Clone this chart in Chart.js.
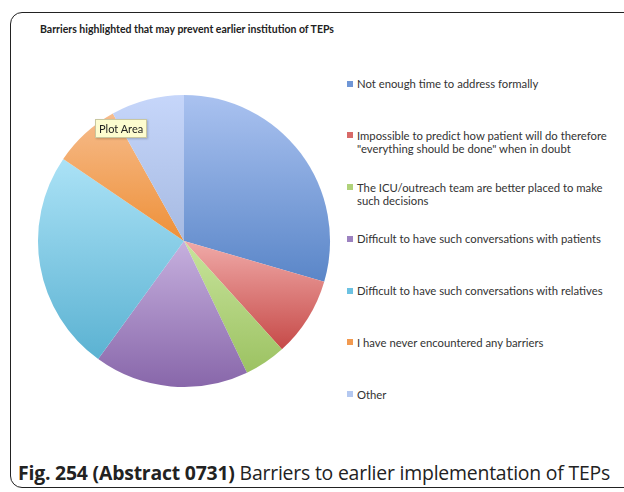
<!DOCTYPE html>
<html>
<head>
<meta charset="utf-8">
<script src="https://cdn.jsdelivr.net/npm/chart.js@4.4.1/dist/chart.umd.min.js"></script>
<style>
  html, body { margin: 0; padding: 0; background: #fff; }
  body { width: 624px; height: 492px; position: relative; overflow: hidden; font-family: Lato, "Open Sans", sans-serif; }
  #card { position: absolute; left: 10px; top: 12px; width: 630px; height: 476px; border: 1.5px solid #222; border-radius: 12px; box-sizing: border-box; }
  #title { position: absolute; left: 40px; top: 23px; font-size: 10.5px; font-weight: bold; color: #222; white-space: nowrap; }
  #chartBox { position: absolute; left: 34px; top: 91px; width: 300px; height: 300px; }
  #legend { position: absolute; left: 347px; top: 77px; width: 275px; font-size: 11.3px; color: #333; }
  .item { height: 51.8px; display: flex; align-items: flex-start; line-height: 13.5px; }
  .box { width: 6px; height: 6px; margin: 3.5px 4px 0 0; flex: none; }
  #tip { position: absolute; left: 95px; top: 119px; padding: 2px 3px; background: #fdfccf; border: 1px solid #c9c7a0; font-size: 11px; color: #222; box-shadow: 1px 1px 2px rgba(0,0,0,0.2); }
  #caption { position: absolute; left: 18px; top: 459px; font-size: 19.4px; color: #222; white-space: nowrap; font-family: "Open Sans", sans-serif; letter-spacing: -0.2px; }
</style>
</head>
<body>
<div id="card"></div>
<div id="title">Barriers highlighted that may prevent earlier institution of TEPs</div>
<div id="chartBox"><canvas id="pieChart"></canvas></div>
<div id="tip">Plot Area</div>
<div id="legend"></div>
<div id="caption"><b>Fig. 254 (Abstract 0731)</b> Barriers to earlier implementation of TEPs</div>
<script>
// categorias e valores (%)
const labels = [
    ['Not enough time to address formally'],
    ['Impossible to predict how patient will do therefore', '"everything should be done" when in doubt'],
    ['The ICU/outreach team are better placed to make', 'such decisions'],
    ['Difficult to have such conversations with patients'],
    ['Difficult to have such conversations with relatives'],
    ['I have never encountered any barriers'],
    ['Other']
];
const values = [29.5, 8.8, 4.6, 17.1, 24.5, 7.4, 8.1];
const topColors = ['#aac2f0', '#f0aaa8', '#c8e49c', '#c6b0de', '#abe2f6', '#f6bc8c', '#c6d6fa'];
const bottomColors = ['#5a86c8', '#c64a48', '#9cc262', '#8867aa', '#5bb2d2', '#ee9038', '#a6bae2'];
const swatches = ['#6f96d6', '#d86a68', '#b0d27a', '#9c82c0', '#6cc2e2', '#f29a50', '#b4c8f0'];

const total = values.reduce((a, b) => a + b, 0);

function inRange(a, s, e) {
    for (let k = -1; k <= 1; k++) {
        const b = a + k * 2 * Math.PI;
        if (b >= s && b <= e) return true;
    }
    return false;
}

// gradiente vertical por fatia (estilo Excel)
function sliceFill(context) {
    const i = context.dataIndex;
    const chart = context.chart;
    const area = chart.chartArea;
    if (!area || i === undefined) return swatches[i];
    const cx = (area.left + area.right) / 2;
    const cy = (area.top + area.bottom) / 2;
    const r = Math.min(area.width, area.height) / 2;
    let before = 0;
    for (let j = 0; j < i; j++) before += values[j];
    const s = -Math.PI / 2 + before / total * 2 * Math.PI;
    const e = s + values[i] / total * 2 * Math.PI;
    const ys = [cy, cy + r * Math.sin(s), cy + r * Math.sin(e)];
    if (inRange(-Math.PI / 2, s, e)) ys.push(cy - r);
    if (inRange(Math.PI / 2, s, e)) ys.push(cy + r);
    const y0 = Math.min(...ys), y1 = Math.max(...ys);
    const g = chart.ctx.createLinearGradient(0, y0, 0, y1 + 0.01);
    g.addColorStop(0, topColors[i]);
    g.addColorStop(1, bottomColors[i]);
    return g;
}

const legendEl = document.getElementById('legend');
labels.forEach(function (lines, i) {
    const item = document.createElement('div');
    item.className = 'item';
    item.innerHTML = '<span class="box" style="background:' + swatches[i] + '"></span><span>' + lines.join('<br>') + '</span>';
    legendEl.appendChild(item);
});

new Chart(document.getElementById('pieChart'), {
    type: 'pie',
    data: {
        labels: labels.map(l => l.join(' ')),
        datasets: [{
            data: values,
            backgroundColor: sliceFill,
            borderWidth: 0
        }]
    },
    options: {
        responsive: true,
        maintainAspectRatio: false,
        animation: false,
        layout: { padding: 4 },
        plugins: {
            legend: { display: false },
            tooltip: { enabled: false }
        }
    }
});
</script>
</body>
</html>
